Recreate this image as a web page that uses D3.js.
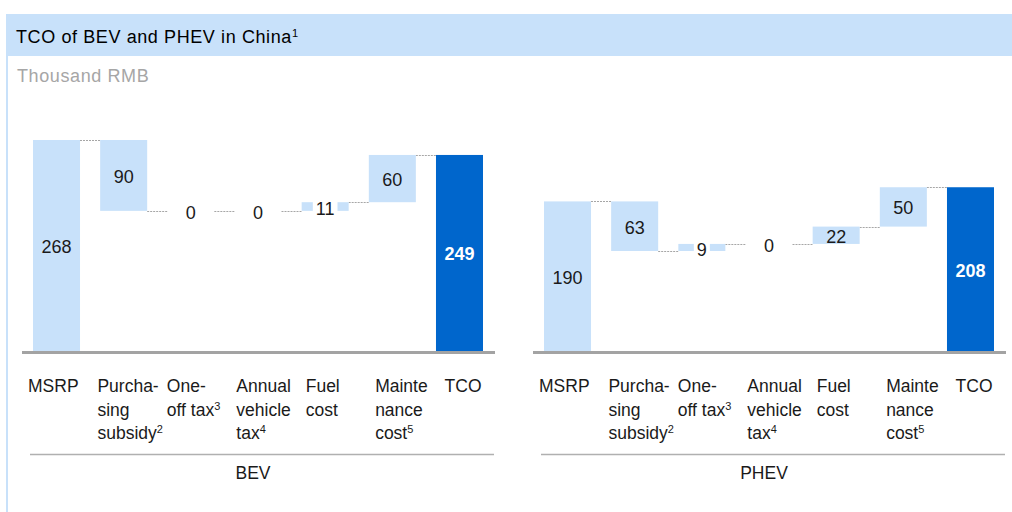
<!DOCTYPE html>
<html>
<head>
<meta charset="utf-8">
<script src="https://cdn.jsdelivr.net/npm/d3@7"></script>
<style>
  body { margin: 0; background: #ffffff; }
  text { font-family: "Liberation Sans", Arial, sans-serif; }
</style>
</head>
<body>
<div id="chart"></div>
<script>
// chart data
var panels = ["BEV", "PHEV"];
var categories = ["MSRP", "Purchasing subsidy", "One-off tax", "Annual vehicle tax", "Fuel cost", "Maintenance cost", "TCO"];
var categoryLines = [
  ["MSRP"],
  ["Purcha-", "sing", "subsidy^2"],
  ["One-", "off tax^3"],
  ["Annual", "vehicle", "tax^4"],
  ["Fuel", "cost"],
  ["Mainte", "nance", "cost^5"],
  ["TCO"]
];
var kinds = ["total", "delta", "delta", "delta", "delta", "delta", "total"];
var bevValues = [268, -90, 0, 0, 11, 60, 249];
var phevValues = [190, -63, 9, 0, 22, 50, 208];
var panelValues = [bevValues, phevValues];

(function () {
  var width = 1012,
    height = 512;

  var lightBlue = "#c8e1fa",
    darkBlue = "#0066cc";

  var svg = d3.select("#chart")
    .append("svg")
    .attr("width", width)
    .attr("height", height);

  // header card
  svg.append("rect")
    .attr("x", 6).attr("y", 14)
    .attr("width", width - 6).attr("height", 42)
    .attr("fill", lightBlue);

  svg.append("rect")
    .attr("x", 6).attr("y", 56)
    .attr("width", 2).attr("height", height - 56)
    .attr("fill", lightBlue);

  var title = svg.append("text")
    .attr("x", 16).attr("y", 43)
    .attr("fill", "#000")
    .style("font-size", "18px")
    .style("letter-spacing", "0.6px")
    .text("TCO of BEV and PHEV in China");
  title.append("tspan")
    .attr("dy", -6)
    .style("font-size", "11px")
    .text("1");

  svg.append("text")
    .attr("x", 17).attr("y", 82)
    .attr("fill", "#a6a6a6")
    .style("font-size", "18px")
    .style("letter-spacing", "0.6px")
    .text("Thousand RMB");

  var panelX = d3.scalePoint().domain(panels).range([22, 533]);

  var x = d3.scaleBand()
    .domain(categories)
    .range([11, 461])
    .paddingInner(0.3);

  // label columns are a bit wider than the bar slots
  var labelX = d3.scaleBand()
    .domain(categories)
    .range([6, 492]);

  var y = d3.scaleLinear()
    .domain([0, 268])
    .range([351, 140]);

  panels.forEach(function (name, p) {
    var values = panelValues[p];
    var running = 0;
    var data = values.map(function (v, i) {
      var d = { cat: categories[i], kind: kinds[i], value: v, index: i };
      if (kinds[i] === "total") {
        d.y0 = 0; d.y1 = v;
      } else {
        d.y0 = running; d.y1 = running + v;
      }
      running = d.y1;
      d.end = running;
      return d;
    });

    var g = svg.append("g")
      .attr("transform", "translate(" + panelX(name) + ",0)");

    // connectors
    g.selectAll(".connector")
      .data(data.slice(0, data.length - 1))
      .enter().append("line")
      .attr("class", "connector")
      .attr("x1", function (d) { return x(d.cat) + x.bandwidth(); })
      .attr("x2", function (d) { return x(categories[d.index + 1]); })
      .attr("y1", function (d) { return Math.round(y(d.end)) + 0.5; })
      .attr("y2", function (d) { return Math.round(y(d.end)) + 0.5; })
      .attr("stroke", "#a6a6a6")
      .attr("stroke-width", 1)
      .attr("stroke-dasharray", "2,1");

    // bars
    g.selectAll(".bar")
      .data(data.filter(function (d) { return d.value !== 0; }))
      .enter().append("rect")
      .attr("class", "bar")
      .attr("x", function (d) { return x(d.cat); })
      .attr("width", x.bandwidth())
      .attr("y", function (d) { return y(Math.max(d.y0, d.y1)); })
      .attr("height", function (d) { return Math.abs(y(d.y0) - y(d.y1)); })
      .attr("fill", function (d) {
        return d.index === categories.length - 1 ? darkBlue : lightBlue;
      });

    // baseline
    g.append("line")
      .attr("x1", 0).attr("x2", 473)
      .attr("y1", y(0) + 1.5).attr("y2", y(0) + 1.5)
      .attr("stroke", "#a3a3a3")
      .attr("stroke-width", 3);

    // value labels
    var labels = g.selectAll(".value_label")
      .data(data)
      .enter().append("g")
      .attr("class", "value_label");

    labels.each(function (d) {
      var sel = d3.select(this);
      var cy = (y(d.y0) + y(d.y1)) / 2;
      var small = Math.abs(y(d.y0) - y(d.y1)) < 16;
      var isTotal = d.index === categories.length - 1;
      var bg = sel.append("rect").attr("fill", "#fff");
      var t = sel.append("text")
        .attr("x", x(d.cat) + x.bandwidth() / 2)
        .attr("y", cy + (small ? 2 : 1))
        .attr("dy", "0.36em")
        .attr("text-anchor", "middle")
        .attr("fill", isTotal ? "#fff" : "#1a1a1a")
        .style("font-size", "18px")
        .style("font-weight", isTotal ? "bold" : "normal")
        .text(Math.abs(d.value));
      if (small && d.value !== 0) {
        var b = t.node().getBBox();
        bg.attr("x", b.x - 3).attr("width", b.width + 6)
          .attr("y", b.y + 2).attr("height", b.height - 4);
      } else {
        bg.remove();
      }
    });

    // category labels
    var cats = g.selectAll(".category_label")
      .data(categoryLines)
      .enter().append("text")
      .attr("class", "category_label")
      .attr("fill", "#1a1a1a")
      .style("font-size", "17.5px");

    cats.each(function (lines, i) {
      var sel = d3.select(this);
      lines.forEach(function (line, j) {
        var parts = line.split("^");
        sel.append("tspan")
          .attr("x", labelX(categories[i]))
          .attr("y", 392 + j * 23.5)
          .text(parts[0]);
        if (parts[1]) {
          sel.append("tspan")
            .attr("dy", -6)
            .style("font-size", "11px")
            .text(parts[1]);
        }
      });
    });

    // group line and name
    g.append("line")
      .attr("x1", 8).attr("x2", 472)
      .attr("y1", 454.5).attr("y2", 454.5)
      .attr("stroke", "#b0b0b0")
      .attr("stroke-width", 1.5);

    g.append("text")
      .attr("x", (x(categories[0]) + x(categories[categories.length - 1]) + x.bandwidth()) / 2 - 5)
      .attr("y", 479)
      .attr("text-anchor", "middle")
      .attr("fill", "#1a1a1a")
      .style("font-size", "17.5px")
      .text(name);
  });
})();
</script>
</body>
</html>
